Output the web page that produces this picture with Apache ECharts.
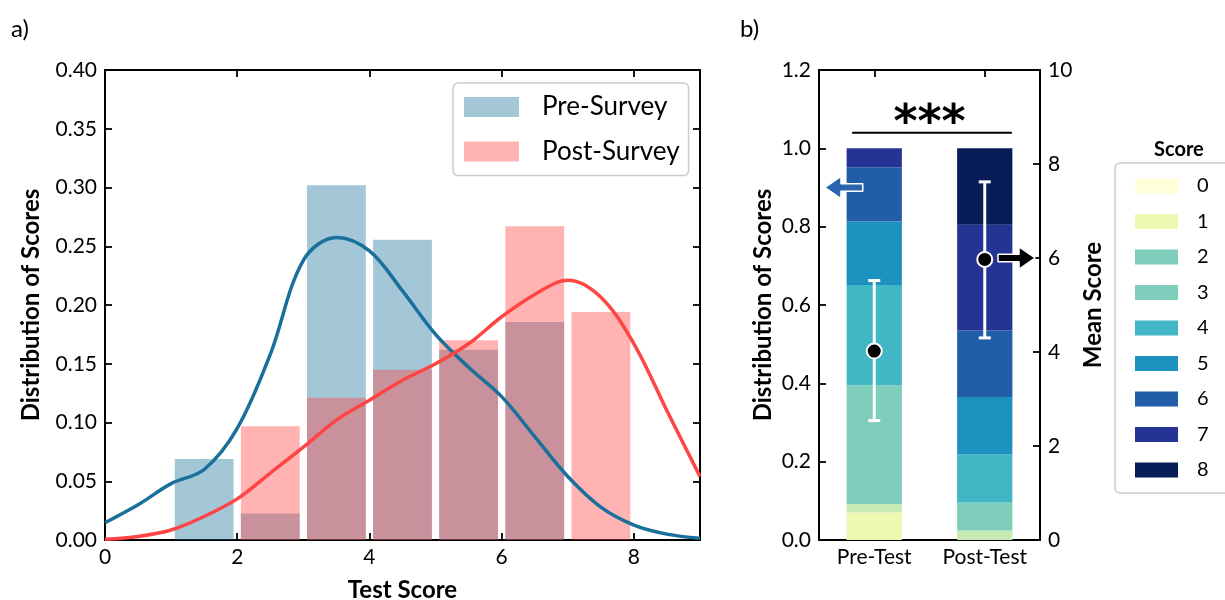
<!DOCTYPE html>
<html>
<head>
<meta charset="utf-8">
<script src="https://cdn.jsdelivr.net/npm/echarts@6/dist/echarts.min.js"></script>
<style>
  html, body { margin: 0; background: #fff; }
  #chart { width: 1225px; height: 600px; }
</style>
</head>
<body>
<div id="chart"></div>
<script>
// ---- panel a: score histograms (bin start, bin end, share) ----
const preBins = [[1, 2, 0.069], [2, 3, 0.0226], [3, 4, 0.302], [4, 5, 0.2555], [5, 6, 0.162], [6, 7, 0.1856]];
const postBins = [[2, 3, 0.0968], [3, 4, 0.121], [4, 5, 0.145], [5, 6, 0.170], [6, 7, 0.267], [7, 8, 0.194]];

// density curves
const kdeX = [0, 0.5, 1, 1.5, 2, 2.5, 3, 3.5, 4, 4.5, 5, 5.5, 6, 6.5, 7, 7.5, 8, 8.5, 9];
const preKde = [0.0147, 0.030, 0.048, 0.060, 0.095, 0.158, 0.238, 0.2575, 0.246, 0.212, 0.175, 0.147, 0.122, 0.088, 0.054, 0.028, 0.0127, 0.005, 0.0015];
const postKde = [0.0006, 0.003, 0.0085, 0.020, 0.035, 0.057, 0.079, 0.102, 0.119, 0.136, 0.150, 0.167, 0.190, 0.209, 0.221, 0.2066, 0.167, 0.110, 0.054];

// ---- panel b: stacked score shares [pre, post] ----
const testCats = ["Pre-Test", "Post-Test"];
const scoreNames = ["0", "1", "2", "3", "4", "5", "6", "7", "8"];
const scoreShares = [
    [0, 0],
    [0.070, 0],
    [0.022, 0.024],
    [0.303, 0.072],
    [0.256, 0.122],
    [0.162, 0.147],
    [0.139, 0.170],
    [0.048, 0.270],
    [0, 0.195],
];
const meanScores = [4.02, 5.97];
const meanLow = [2.54, 4.30];
const meanHigh = [5.52, 7.62];

// annotations (x on a -0.5..1.5 scale across panel b)
const sigLine = [[-0.2, 1.04], [1.245, 1.04]];
const sigStars = [[0.5, 1.06, "***"]];
const blueArrow = [[-0.104, -0.446, 0.9]];
const blackArrow = [[1.12, 1.455, 6]];

const barColors = ["#ffffd9", "#edf8b1", "#c7e9b4", "#7fcdbb", "#41b6c4", "#1d91c0", "#225ea8", "#253494", "#081d58"];
const legendColors = ["#ffffd9", "#edf8b1", "#7fcdbb", "#7fcdbb", "#41b6c4", "#1d91c0", "#225ea8", "#253494", "#081d58"];

const FONT = "Lato";
const barFill = 0.89;

const histItem = (params, api) => {
    const x0 = api.value(0), x1 = api.value(1), v = api.value(2);
    const pad = (x1 - x0) * (1 - barFill) / 2;
    const a = api.coord([x0 + pad, v]);
    const b = api.coord([x1 - pad, 0]);
    return {
        type: "rect",
        shape: { x: a[0], y: a[1], width: b[0] - a[0], height: b[1] - a[1] },
        style: { fill: api.visual("color") },
    };
};

const arrowItem = (params, api) => {
    const p0 = api.coord([api.value(0), api.value(2)]);
    const p1 = api.coord([api.value(1), api.value(2)]);
    const d = p1[0] > p0[0] ? 1 : -1;
    const hl = 16, hw = 11, sw = 3.8;
    const bx = p1[0] - d * hl, y = p0[1];
    return {
        type: "polygon",
        shape: { points: [[p0[0], y - sw], [bx, y - sw], [bx, y - hw], [p1[0], y], [bx, y + hw], [bx, y + sw], [p0[0], y + sw]] },
        style: { fill: api.visual("color"), stroke: "#fff", lineWidth: 1.5, lineJoin: "round" },
    };
};

const errItem = (params, api) => {
    const x = api.value(0);
    const top = api.coord([x, api.value(3)]);
    const bot = api.coord([x, api.value(2)]);
    const cw = 6;
    const st = { stroke: "#fff", lineWidth: 3 };
    return {
        type: "group",
        children: [
            { type: "line", shape: { x1: top[0], y1: top[1], x2: bot[0], y2: bot[1] }, style: st },
            { type: "line", shape: { x1: top[0] - cw, y1: top[1], x2: top[0] + cw, y2: top[1] }, style: st },
            { type: "line", shape: { x1: bot[0] - cw, y1: bot[1], x2: bot[0] + cw, y2: bot[1] }, style: st },
        ],
    };
};

const starItem = (params, api) => {
    const p = api.coord([api.value(0), api.value(1)]);
    return {
        type: "text",
        x: p[0], y: p[1],
        style: { text: "***", fontSize: 46, fontWeight: "bold", fontFamily: "DejaVu Sans", fill: "#000", align: "center", verticalAlign: "middle" },
    };
};

const lineBlack = { show: true, onZero: false, lineStyle: { color: "#000", width: 2 } };
const tickIn = { show: true, inside: true, length: 7, lineStyle: { color: "#000", width: 1.8 } };
const lbl = { fontFamily: FONT, fontSize: 21, color: "#000" };
const nameStyle = { fontFamily: FONT, fontSize: 24, fontWeight: "bold", color: "#000" };

const option = {
    animation: false,
    backgroundColor: "#fff",
    title: [
        { text: "a)", left: 6, top: 12, textStyle: { fontFamily: FONT, fontSize: 24, fontWeight: "normal", color: "#000" } },
        { text: "b)", left: 735, top: 12, textStyle: { fontFamily: FONT, fontSize: 24, fontWeight: "normal", color: "#000" } },
        { text: "Score", left: 1149, top: 135, textStyle: { fontFamily: FONT, fontSize: 20, fontWeight: "bold", color: "#000" } },
    ],
    grid: [
        { left: 105, top: 70, width: 595, height: 470, outerBoundsMode: "none", containLabel: false },
        { left: 819, top: 70, width: 221, height: 470, outerBoundsMode: "none", containLabel: false },
    ],
    legend: [
        {
            data: ["Pre-Survey", "Post-Survey"],
            orient: "vertical",
            left: 453, top: 83,
            icon: "rect",
            itemWidth: 55, itemHeight: 20, itemGap: 18.6,
            padding: [11, 9, 11, 11],
            borderColor: "#cccccc", borderWidth: 1.5, borderRadius: 5,
            selectedMode: false,
            textStyle: { fontFamily: FONT, fontSize: 26, color: "#000", padding: [0, 0, 0, 18] },
        },
        {
            data: scoreNames.map((n, i) => ({ name: n, itemStyle: { color: legendColors[i] } })),
            orient: "vertical",
            left: 1115, top: 163,
            icon: "rect",
            itemWidth: 43, itemHeight: 15, itemGap: 15.5,
            padding: [13, 40, 13, 20],
            borderColor: "#cccccc", borderWidth: 1.5, borderRadius: 5,
            selectedMode: false,
            textStyle: { fontFamily: FONT, fontSize: 20, color: "#000", padding: [0, 0, 0, 14] },
        },
    ],
    xAxis: [
        {
            type: "value", gridIndex: 0, min: 0, max: 9, interval: 2, position: "bottom",
            axisLine: lineBlack, axisTick: tickIn, splitLine: { show: false },
            axisLabel: { ...lbl, margin: 7, showMaxLabel: false },
            name: "Test Score", nameLocation: "middle", nameGap: 38, nameTextStyle: nameStyle,
        },
        {
            type: "value", gridIndex: 0, min: 0, max: 9, interval: 2, position: "top",
            axisLine: lineBlack, axisTick: tickIn, splitLine: { show: false }, axisLabel: { show: false },
        },
        {
            type: "category", gridIndex: 1, data: testCats, position: "bottom",
            axisLine: lineBlack, axisTick: { ...tickIn, alignWithLabel: true },
            axisLabel: { ...lbl, margin: 7 },
        },
        {
            type: "category", gridIndex: 1, data: testCats, position: "top",
            axisLine: lineBlack, axisTick: { ...tickIn, alignWithLabel: true }, axisLabel: { show: false },
        },
        { type: "value", gridIndex: 1, min: -0.5, max: 1.5, show: false },
    ],
    yAxis: [
        {
            type: "value", gridIndex: 0, min: 0, max: 0.4, interval: 0.05, position: "left",
            axisLine: lineBlack, axisTick: tickIn, splitLine: { show: false },
            axisLabel: { ...lbl, margin: 8, formatter: (v) => v.toFixed(2) },
            name: "Distribution of Scores", nameLocation: "middle", nameRotate: 90, nameGap: 62, nameTextStyle: nameStyle,
        },
        {
            type: "value", gridIndex: 0, min: 0, max: 0.4, interval: 0.05, position: "right",
            axisLine: lineBlack, axisTick: tickIn, splitLine: { show: false }, axisLabel: { show: false },
        },
        {
            type: "value", gridIndex: 1, min: 0, max: 1.2, interval: 0.2, position: "left",
            axisLine: lineBlack, axisTick: tickIn, splitLine: { show: false },
            axisLabel: { ...lbl, margin: 8, formatter: (v) => v.toFixed(1) },
            name: "Distribution of Scores", nameLocation: "middle", nameRotate: 90, nameGap: 44, nameTextStyle: nameStyle,
        },
        {
            type: "value", gridIndex: 1, min: 0, max: 10, interval: 2, position: "right",
            axisLine: lineBlack, axisTick: tickIn, splitLine: { show: false },
            axisLabel: { ...lbl, margin: 8 },
            name: "Mean Score", nameLocation: "middle", nameRotate: 90, nameGap: 41, nameTextStyle: nameStyle,
        },
    ],
    series: [
        {
            name: "Pre-Survey", type: "custom", xAxisIndex: 0, yAxisIndex: 0,
            itemStyle: { color: "rgba(27,115,157,0.4)" },
            renderItem: histItem, encode: { x: [0, 1], y: 2 }, data: preBins, z: 2,
        },
        {
            name: "Post-Survey", type: "custom", xAxisIndex: 0, yAxisIndex: 0,
            itemStyle: { color: "rgba(255,64,64,0.4)" },
            renderItem: histItem, encode: { x: [0, 1], y: 2 }, data: postBins, z: 3,
        },
        {
            name: "Pre KDE", type: "line", xAxisIndex: 0, yAxisIndex: 0, smooth: 0.35, showSymbol: false,
            lineStyle: { color: "#19709b", width: 3.5 }, itemStyle: { color: "#19709b" },
            data: kdeX.map((x, i) => [x, preKde[i]]), z: 4,
        },
        {
            name: "Post KDE", type: "line", xAxisIndex: 0, yAxisIndex: 0, smooth: 0.35, showSymbol: false,
            lineStyle: { color: "#ff4444", width: 3.5 }, itemStyle: { color: "#ff4444" },
            data: kdeX.map((x, i) => [x, postKde[i]]), z: 5,
        },
        ...scoreNames.map((n, i) => ({
            name: n, type: "bar", stack: "scores", xAxisIndex: 2, yAxisIndex: 2,
            barWidth: "50%", itemStyle: { color: barColors[i] },
            data: scoreShares[i], z: 2,
        })),
        {
            name: "err", type: "custom", xAxisIndex: 2, yAxisIndex: 3,
            renderItem: errItem, encode: { x: 0, y: [2, 3] },
            data: testCats.map((c, i) => [i, meanScores[i], meanLow[i], meanHigh[i]]), z: 6,
        },
        {
            name: "mean", type: "scatter", xAxisIndex: 2, yAxisIndex: 3, symbolSize: 15,
            itemStyle: { color: "#000", borderColor: "#fff", borderWidth: 2, opacity: 1 },
            data: testCats.map((c, i) => [i, meanScores[i]]), z: 7,
        },
        {
            name: "sig", type: "line", xAxisIndex: 4, yAxisIndex: 2, showSymbol: false,
            lineStyle: { color: "#000", width: 2 }, data: sigLine, z: 6,
        },
        {
            name: "stars", type: "custom", xAxisIndex: 4, yAxisIndex: 2,
            renderItem: starItem, data: sigStars, z: 6,
        },
        {
            name: "arrowL", type: "custom", xAxisIndex: 4, yAxisIndex: 2,
            itemStyle: { color: "#2a66b0" }, renderItem: arrowItem, data: blueArrow, z: 8,
        },
        {
            name: "arrowR", type: "custom", xAxisIndex: 4, yAxisIndex: 3,
            itemStyle: { color: "#000" }, renderItem: arrowItem, data: blackArrow, z: 8,
        },
    ],
};

const chart = echarts.init(document.getElementById("chart"));
chart.setOption(option);
window.addEventListener("resize", () => chart.resize());
</script>
</body>
</html>
